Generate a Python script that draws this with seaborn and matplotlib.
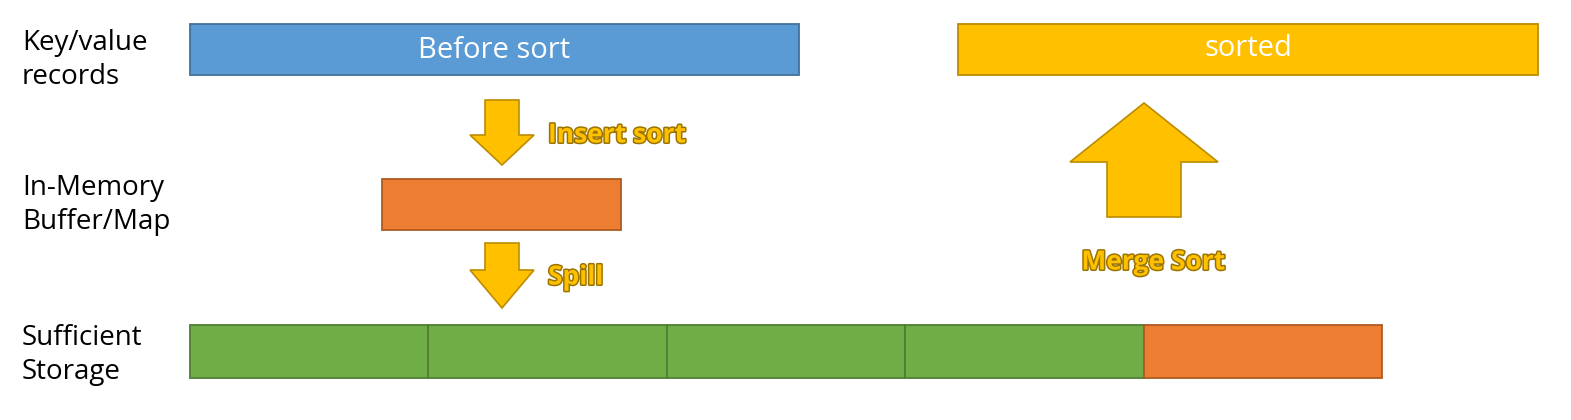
import matplotlib
matplotlib.use("Agg")
import matplotlib.pyplot as plt
import matplotlib.patheffects as pe
from matplotlib.patches import Rectangle, Polygon
import seaborn as sns

sns.set_style("white")
plt.rcParams['font.family'] = ['Open Sans', 'DejaVu Sans']

# row labels and bar captions
row_labels = ["Key/value\nrecords", "In-Memory\nBuffer/Map", "Sufficient\nStorage"]
top_captions = ["Before sort", "sorted"]
step_labels = ["Insert sort", "Spill", "Merge Sort"]
# storage blocks: 4 spilled (green) + 1 in-memory (orange)
storage_kinds = ["spill", "spill", "spill", "spill", "buffer"]

fill = {"before": "#5B9BD5", "sorted": "#FFC000", "buffer": "#ED7D31", "spill": "#70AD47"}
edge = {"before": "#41719C", "sorted": "#BC8C00", "buffer": "#AE5A21", "spill": "#507E32"}

fig = plt.figure(figsize=(15.71, 4.2), dpi=100)
ax = fig.add_axes([0, 0, 1, 1])
ax.set_xlim(0, 1571)
ax.set_ylim(420, 0)
ax.axis("off")

def box(x0, x1, y0, y1, kind):
    ax.add_patch(Rectangle((x0, y0), x1 - x0, y1 - y0, facecolor=fill[kind],
                           edgecolor=edge[kind], linewidth=1.3))

box(190, 799, 24, 75, "before")
ax.text(494, 50, top_captions[0], color="white", fontsize=21, ha="center", va="center")
box(958, 1538, 24, 75, "sorted")
ax.text(1248, 48, top_captions[1], color="white", fontsize=21, ha="center", va="center")
box(382, 621, 179, 230, "buffer")

w = (1382 - 190) / len(storage_kinds)
for i, k in enumerate(storage_kinds):
    box(190 + i * w, 190 + (i + 1) * w, 325, 378, k)

for lbl, y in zip(row_labels, [60, 205, 355]):
    ax.text(22, y, lbl, fontsize=20, ha="left", va="center", color="black", linespacing=1.25)

arrow_kw = dict(facecolor="#FFC000", edgecolor="#BC8C00", linewidth=1.2)
def down_arrow(y0, y1, yt):
    ax.add_patch(Polygon([(485, y0), (519, y0), (519, y1), (534, y1), (502, yt),
                          (470, y1), (485, y1)], **arrow_kw))
down_arrow(100, 135, 165)
down_arrow(243, 270, 308)
ax.add_patch(Polygon([(1107, 217), (1181, 217), (1181, 162), (1218, 162), (1144, 103),
                      (1070, 162), (1107, 162)], **arrow_kw))

stroke = [pe.withStroke(linewidth=2.2, foreground="#9A7400")]
for lbl, x, y, ha in zip(step_labels, [548, 548, 1153], [135, 277, 262], ["left", "left", "center"]):
    ax.text(x, y, lbl, fontsize=19, fontweight="bold", color="#FFC000", ha=ha, va="center",
            path_effects=stroke)

fig.savefig("out.png", dpi=100, facecolor="white")
